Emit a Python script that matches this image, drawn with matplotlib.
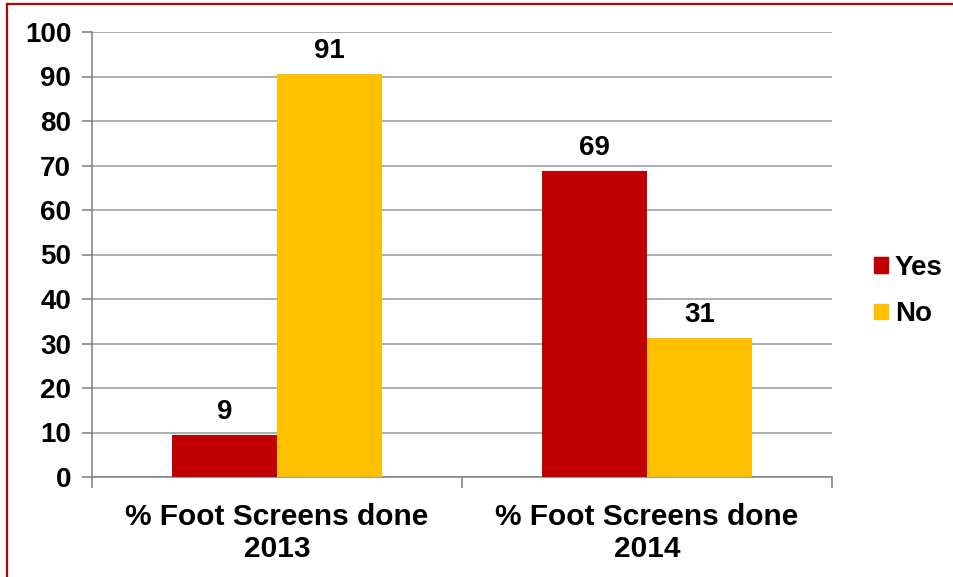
import matplotlib
matplotlib.use("Agg")
import matplotlib.pyplot as plt
import numpy as np
from matplotlib.lines import Line2D
from matplotlib.patches import Patch

categories = ["% Foot Screens done\n2013", "% Foot Screens done\n2014"]
yes_vals = [9.4, 68.8]
no_vals = [90.6, 31.2]
yes_labels = ["9", "69"]
no_labels = ["91", "31"]
yticks = list(range(0, 101, 10))

plt.rcParams['font.family'] = ['Liberation Sans', 'DejaVu Sans']
plt.rcParams['font.weight'] = 'bold'

FS = 20
W, H = 954, 577
fig = plt.figure(figsize=(W/100, H/100), dpi=100)
ax = fig.add_axes([92/W, 1-477/H, (832-92)/W, (477-32)/H])

x = np.arange(len(categories))
bw = 0.285
red = '#C00000'
gold = '#FFC000'
ax.bar(x - bw/2, yes_vals, bw, color=red, zorder=3)
ax.bar(x + bw/2, no_vals, bw, color=gold, zorder=3)

for xi, v, l in zip(x - bw/2, yes_vals, yes_labels):
    ax.text(xi, v + 2.3, l, ha='center', va='bottom', fontsize=FS, fontweight='bold')
for xi, v, l in zip(x + bw/2, no_vals, no_labels):
    ax.text(xi, v + 2.3, l, ha='center', va='bottom', fontsize=FS, fontweight='bold')

ax.set_xlim(-0.5, 1.5)
ax.set_ylim(0, 100)
ax.set_yticks(yticks)
ax.set_yticklabels([str(t) for t in yticks], fontsize=FS, fontweight='bold')
ax.yaxis.grid(True, color='#A0A0A0', linewidth=1.2, zorder=0)
ax.set_axisbelow(True)

ax.set_xticks([-0.5, 0.5, 1.5])
ax.set_xticklabels([])
ax.set_xticks(x, minor=True)
ax.set_xticklabels(categories, minor=True, fontsize=21.5, fontweight='bold', linespacing=1.15)
ax.tick_params(axis='x', which='minor', length=0, pad=19)
ax.tick_params(axis='x', which='major', length=8, color='#868686', width=1.2, direction='out')
ax.tick_params(axis='y', length=7, color='#868686', width=1.2, direction='out', pad=8)

for s in ['top', 'right']:
    ax.spines[s].set_visible(False)
for s in ['left', 'bottom']:
    ax.spines[s].set_color('#868686')
    ax.spines[s].set_linewidth(1.2)

handles = [Patch(color=red, label='Yes'), Patch(color=gold, label='No')]
leg = fig.legend(handles=handles, loc='center left', bbox_to_anchor=(849/W, 1-291/H),
                 frameon=False, handlelength=0.5, handleheight=0.5,
                 handletextpad=0.25, labelspacing=0.75, prop={'weight': 'bold', 'size': FS})

# red border on left and top
fig.add_artist(Line2D([7.5/W, 7.5/W], [0, 1-3.5/H], color='#C00000', linewidth=1.6, transform=fig.transFigure))
fig.add_artist(Line2D([7.5/W, 1], [1-3.5/H, 1-3.5/H], color='#C00000', linewidth=1.6, transform=fig.transFigure))

fig.savefig('out.png', dpi=100)
